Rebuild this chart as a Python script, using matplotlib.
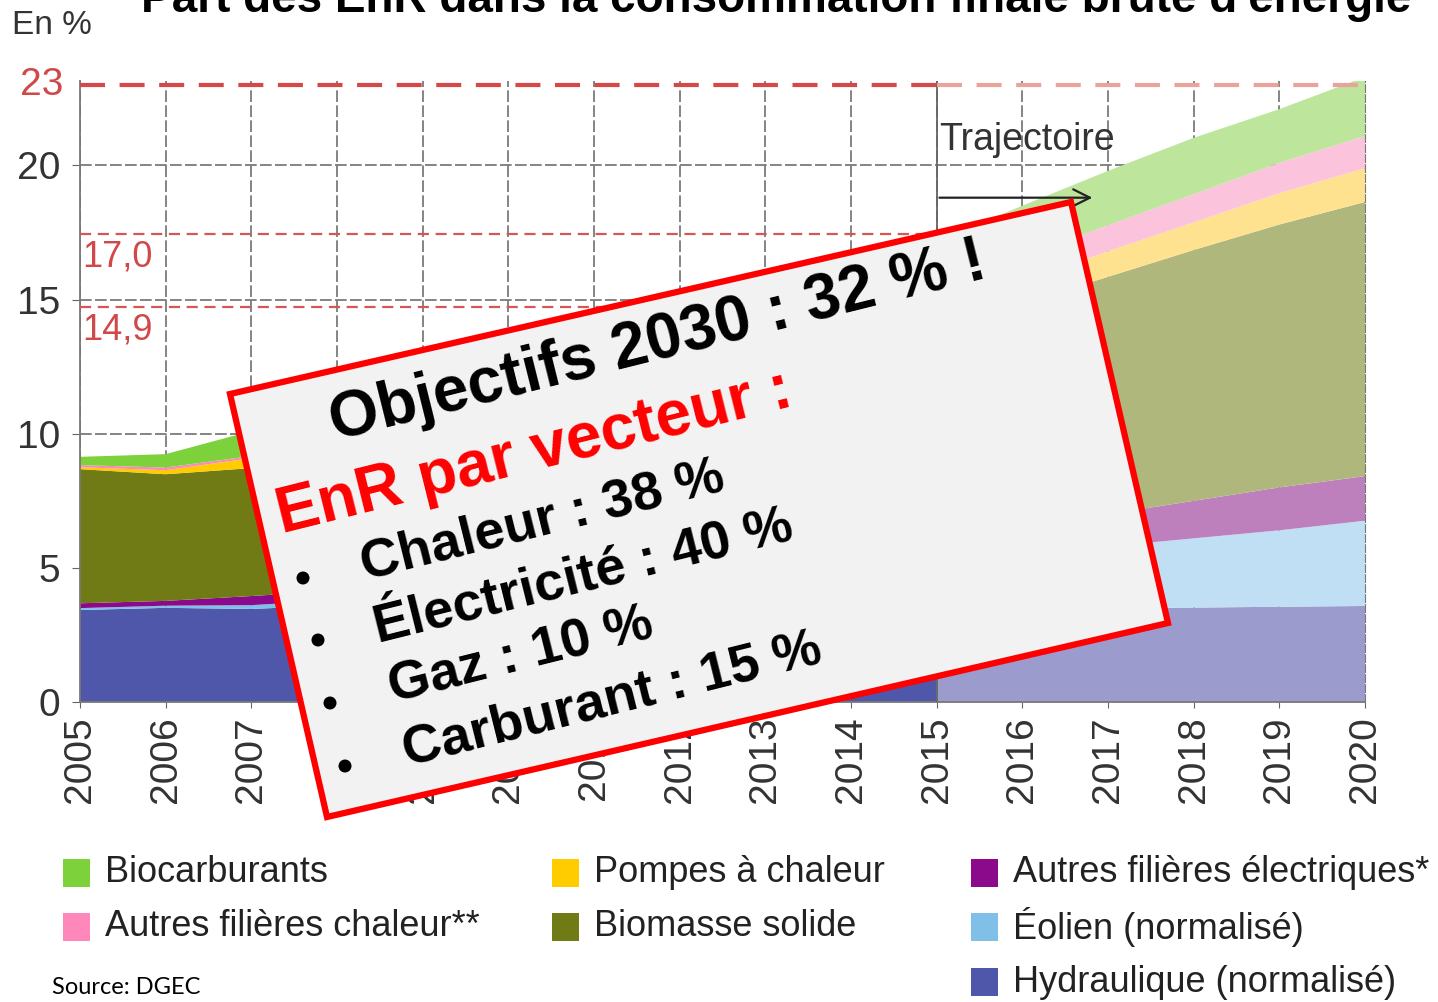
import matplotlib
matplotlib.use("Agg")
import matplotlib.pyplot as plt
from matplotlib.patches import Polygon, Rectangle, Ellipse

plt.rcParams['font.family'] = ['Liberation Sans', 'DejaVu Sans']

W, H = 1438, 1002

# data (part des EnR, en %)
years_real = [2005, 2006, 2007, 2008, 2009, 2010, 2011, 2012, 2013, 2014, 2015]
hydraulique = [3.43, 3.51, 3.47, 3.60, 3.30, 3.50, 2.90, 3.30, 3.70, 3.50, 3.45]
eolien = [0.07, 0.08, 0.14, 0.20, 0.30, 0.40, 0.50, 0.60, 0.65, 0.70, 0.80]
autres_elec = [0.18, 0.18, 0.34, 0.35, 0.40, 0.50, 0.55, 0.70, 0.75, 0.80, 0.85]
biomasse = [5.00, 4.72, 4.77, 5.00, 5.30, 5.50, 4.90, 5.40, 5.90, 5.50, 5.60]
pompes = [0.07, 0.15, 0.37, 0.45, 0.55, 0.60, 0.65, 0.75, 0.80, 0.85, 0.90]
autres_chaleur = [0.08, 0.10, 0.08, 0.10, 0.12, 0.15, 0.17, 0.20, 0.25, 0.30, 0.35]
biocarburants = [0.31, 0.50, 0.93, 1.10, 1.30, 1.30, 1.30, 1.35, 1.35, 1.40, 1.45]

years_traj = [2015, 2016, 2017, 2018, 2019, 2020]
hydraulique_t = [3.45, 3.47, 3.50, 3.52, 3.55, 3.58]
eolien_t = [1.75, 2.03, 2.30, 2.58, 2.85, 3.18]
autres_elec_t = [1.00, 1.10, 1.20, 1.40, 1.60, 1.66]
biomasse_t = [7.65, 8.25, 8.85, 9.35, 9.80, 10.22]
pompes_t = [0.75, 0.85, 0.95, 1.03, 1.17, 1.26]
autres_chaleur_t = [0.78, 0.90, 0.97, 1.05, 1.13, 1.20]
biocarburants_t = [1.82, 1.90, 2.03, 2.10, 2.00, 2.20]

labels = ['Hydraulique (normalisé)', 'Éolien (normalisé)', 'Autres filières électriques*',
          'Biomasse solide', 'Pompes à chaleur', 'Autres filières chaleur**', 'Biocarburants']
colors = ['#4f57ab', '#80bfe8', '#8b0a8b', '#707b15', '#ffcc00', '#ff88bb', '#7dd23c']
colors_light = ['#9c9bcd', '#c0dff4', '#bd80bd', '#b0b77c', '#ffe28f', '#fcc3dc', '#bde59b']

objectif_2020 = 23
ref_lines = [17.45, 14.72]
ref_labels = ['17,0', '14,9']


def px(x, y):
    return x / W, 1 - y / H


fig = plt.figure(figsize=(W / 100, H / 100), dpi=100)
ax = fig.add_axes([80 / W, 1 - 702 / H, (1365 - 80) / W, (702 - 81) / H])

ax.stackplot(years_real, hydraulique, eolien, autres_elec, biomasse, pompes,
             autres_chaleur, biocarburants, colors=colors, lw=0, zorder=2)
ax.stackplot(years_traj, hydraulique_t, eolien_t, autres_elec_t, biomasse_t, pompes_t,
             autres_chaleur_t, biocarburants_t, colors=colors_light, lw=0, zorder=2)

ax.set_xlim(2005, 2020)
ax.set_ylim(0, 23.15)
ax.set_axisbelow(True)
ax.grid(True, ls=(0, (7, 2)), color='#707070', lw=1.2)
ax.axvline(2015, color='#666666', lw=1.3, zorder=3)

# reference lines
ax.plot([2005, 2015], [objectif_2020] * 2, color='#d64848', lw=3, ls=(0, (6, 3.5)), zorder=4)
ax.plot([2015, 2020], [objectif_2020] * 2, color='#e8a49a', lw=3, ls=(0, (6, 3.5)), zorder=4)
for v, lab, ty in zip(ref_lines, ref_labels, [16.6, 13.88]):
    ax.plot([2005, 2015], [v, v], color='#d65656', lw=1.6, ls=(0, (5, 3)), zorder=4)
    ax.text(2005.03, ty, lab, color='#d04848', fontsize=26, va='center', ha='left')
ax.text(-0.013, objectif_2020, '23', color='#d04848', fontsize=28, va='center', ha='right',
        transform=ax.get_yaxis_transform())

ax.annotate('', xy=(2016.85, 18.8), xytext=(2015, 18.8),
            arrowprops=dict(arrowstyle='->', color='#222222', lw=1.6, mutation_scale=30))
ax.text(2015.03, 20.94, 'Trajectoire', fontsize=27, color='#333333', va='center', ha='left')

ax.set_xticks(years_real + years_traj[1:])
ax.set_xticklabels([str(y) for y in years_real + years_traj[1:]], rotation=90)
ax.set_yticks([0, 5, 10, 15, 20])
ax.tick_params(axis='both', labelsize=28, colors='#666666', labelcolor='#333333')
ax.tick_params(axis='y', length=6, pad=8)
ax.tick_params(axis='x', length=4, pad=6)
for s in ['left', 'bottom']:
    ax.spines[s].set_color('#777777')
    ax.spines[s].set_linewidth(1.3)
ax.spines['top'].set_visible(False)
ax.spines['right'].set_color('#777777')
ax.spines['right'].set_linestyle((0, (7, 2)))
ax.spines['right'].set_zorder(5)

# header texts (title is cut off at the top edge, as in the source image)
fig.text(*px(776, 12), "Part des EnR dans la consommation finale brute d'énergie",
         fontsize=33, fontweight='bold', ha='center', va='baseline')
fig.text(*px(12, 25), 'En %', fontsize=24, color='#333333', va='center', ha='left')

# legend
legend_pos = [(63, 873, 6), (63, 927, 5), (552, 873, 4), (552, 927, 3),
              (971, 873, 2), (971, 927, 1), (971, 982, 0)]
for x, y, i in legend_pos:
    fig.patches.append(Rectangle(px(x, y + 14), 27 / W, 28 / H, transform=fig.transFigure,
                                 facecolor=colors[i], edgecolor='none'))
    fig.text(*px(x + 42, y), labels[i], fontsize=26, color='#222222', va='center', ha='left')
fig.text(*px(52, 988), 'Source: DGEC', fontsize=17, family='Lato', va='center', ha='left')

# overlay box
corners = [px(230, 394), px(1071, 202), px(1168, 623), px(327, 817)]
fig.patches.append(Polygon(corners, closed=True, transform=fig.transFigure,
                           facecolor='#f2f2f2', edgecolor='#ff0000', lw=4.5,
                           joinstyle='miter', zorder=5))

rot = 14
fig.text(*px(335, 440), 'Objectifs 2030 : 32 % !', fontsize=46, fontweight='bold',
         rotation=rot, rotation_mode='anchor', ha='left', va='baseline', zorder=6)
fig.text(*px(282, 533), 'EnR par vecteur :', fontsize=46, fontweight='bold', color='#ff0000',
         rotation=rot, rotation_mode='anchor', ha='left', va='baseline', zorder=6)
items = ['Chaleur : 38 %', 'Électricité : 40 %', 'Gaz : 10 %', 'Carburant : 15 %']
starts = [(365, 580), (378, 643), (393, 703), (407, 766)]
bullets = [(303, 578), (318, 640), (330, 703), (345, 766)]
for t, (sx, sy), (bx, by) in zip(items, starts, bullets):
    fig.text(*px(sx, sy), t, fontsize=39, fontweight='bold', rotation=rot,
             rotation_mode='anchor', ha='left', va='baseline', zorder=6)
    fig.patches.append(Ellipse(px(bx, by), 13 / W, 13 / H, transform=fig.transFigure,
                               facecolor='black', edgecolor='none', zorder=6))

fig.savefig('out.png', dpi=100)
